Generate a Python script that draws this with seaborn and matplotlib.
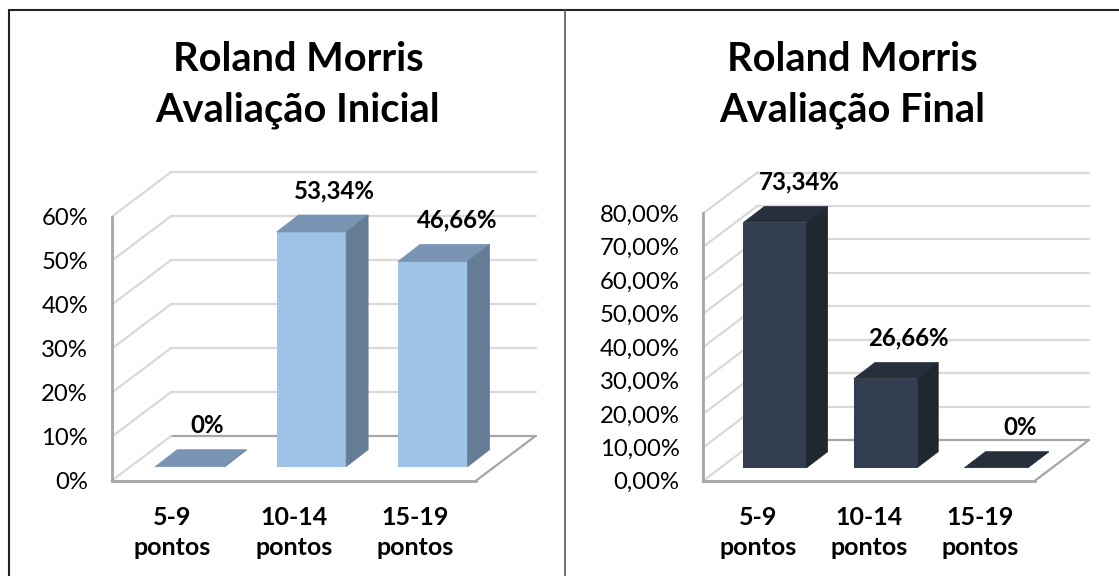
import matplotlib
matplotlib.use("Agg")
import matplotlib.pyplot as plt
import pandas as pd
import seaborn as sns
from matplotlib.patches import Polygon

categories = ["5-9\npontos", "10-14\npontos", "15-19\npontos"]

inicial_values = [0, 53.34, 46.66]
inicial_labels = ["0%", "53,34%", "46,66%"]
inicial_ticks = [0, 10, 20, 30, 40, 50, 60]
inicial_ticklabels = ["0%", "10%", "20%", "30%", "40%", "50%", "60%"]

final_values = [73.34, 26.66, 0]
final_labels = ["73,34%", "26,66%", "0%"]
final_ticks = [0, 10, 20, 30, 40, 50, 60, 70, 80]
final_ticklabels = ["0,00%", "10,00%", "20,00%", "30,00%", "40,00%",
                    "50,00%", "60,00%", "70,00%", "80,00%"]

W, H = 1119, 576
GRID = "#d9d9d9"
AXIS = "#a6a6a6"


def plot_panel(fig, box, values, labels, ticks, ticklabels, colors, wall, bar_off, bar_depth, label_shift):
    # box is left, top, right, bottom of the front wall in pixels
    left, top, right, bottom = box
    ax = fig.add_axes([left / W, 1 - bottom / H, (right - left) / W, (bottom - top) / H])
    df = pd.DataFrame({"cat": categories, "val": values})
    sns.barplot(df, x="cat", y="val", color=colors[0], saturation=1, width=0.573, linewidth=0, ax=ax, zorder=3)
    ax.set_xlim(-0.5, 2.5)
    ax.set_ylim(ticks[0], ticks[-1])

    # pixels to data units, the fake 3d depth is all offsets
    px_x = 3 / (right - left)
    px_y = (ticks[-1] - ticks[0]) / (bottom - top)

    for t in ticks:
        color = AXIS if t == 0 else GRID
        ax.plot([-0.5 + wall[0] * px_x, 2.5 + wall[0] * px_x], [t + wall[1] * px_y] * 2,
                color=color, lw=1.6, clip_on=False, zorder=1)
        ax.plot([-0.5, -0.5 + wall[0] * px_x], [t, t + wall[1] * px_y],
                color=GRID, lw=1.6, clip_on=False, zorder=1)
    # floor right edge
    ax.plot([2.5, 2.5 + wall[0] * px_x], [0, wall[1] * px_y], color=AXIS, lw=1.6, clip_on=False, zorder=2)

    for i, patch in enumerate(ax.patches[:len(values)]):
        x0 = patch.get_x() + bar_off[0] * px_x
        x1 = x0 + patch.get_width()
        y0 = bar_off[1] * px_y
        y1 = y0 + values[i]
        patch.set_x(x0)
        patch.set_y(y0)
        patch.set_clip_on(False)
        dx, dy = bar_depth[0] * px_x, bar_depth[1] * px_y
        # thin same colour edge closes the seam against the front face
        ax.add_patch(Polygon([(x0, y1), (x1, y1), (x1 + dx, y1 + dy), (x0 + dx, y1 + dy)],
                             fc=colors[1], ec=colors[1], lw=0.5, clip_on=False, zorder=3))
        ax.add_patch(Polygon([(x1, y0), (x1 + dx, y0 + dy), (x1 + dx, y1 + dy), (x1, y1)],
                             fc=colors[2], ec=colors[2], lw=0.5, clip_on=False, zorder=3))
        ax.annotate(labels[i], (x0 + patch.get_width() / 2, y1 + dy), xycoords="data",
                    xytext=(label_shift[i] * 0.72, 17.5), textcoords="offset points",
                    ha="center", va="center", fontsize=17.3, fontweight="bold", color="black",
                    annotation_clip=False, zorder=4)

    ax.set_yticks(ticks)
    ax.set_yticklabels(ticklabels, fontsize=17.2, color="black")
    ax.set_xlabel("")
    ax.set_ylabel("")
    ax.tick_params(axis="y", length=0, pad=17)
    ax.tick_params(axis="x", length=0, pad=18)
    for tick in ax.get_xticklabels():
        tick.set_fontsize(18)
        tick.set_fontweight("bold")
        tick.set_color("black")
        tick.set_linespacing(1.38)
    sns.despine(ax=ax, top=True, right=True)
    for side in ["left", "bottom"]:
        ax.spines[side].set_color(AXIS)
        ax.spines[side].set_linewidth(2)
        ax.spines[side].set_zorder(2)
    ax.patch.set_alpha(0)
    return ax


sns.set_style("white")
plt.rcParams["font.family"] = ["Lato", "DejaVu Sans"]

fig = plt.figure(figsize=(W / 100, H / 100), dpi=100)

plot_panel(fig, (111.7, 216.7, 476, 480.7), inicial_values, inicial_labels, inicial_ticks, inicial_ticklabels,
           ("#9dc3e6", "#7a95b4", "#647c96"), (59.5, 44.7), (17.5, 14), (22, 17), (17.5, 23, 24))
plot_panel(fig, (703.3, 213.3, 1035, 480.7), final_values, final_labels, final_ticks, final_ticklabels,
           ("#333f50", "#262f3c", "#20282f"), (54, 40.7), (16.4, 13), (21, 16), (24, 23, 24))

fig.text(298 / W, 1 - 85 / H, "Roland Morris\nAvaliação Inicial", ha="center", va="center",
         fontsize=28.6, fontweight="bold", linespacing=1.44, color="black")
fig.text(852 / W, 1 - 85 / H, "Roland Morris\nAvaliação Final", ha="center", va="center",
         fontsize=28.6, fontweight="bold", linespacing=1.44, color="black")

# table frame around the two charts
fig.add_artist(plt.Line2D([9 / W, 1], [1 - 9.5 / H] * 2, color="#222222", lw=1.5))
fig.add_artist(plt.Line2D([9 / W] * 2, [0, 1 - 9.5 / H], color="#222222", lw=1.5))
fig.add_artist(plt.Line2D([565 / W] * 2, [0, 1 - 9.5 / H], color="#555555", lw=1.2))

fig.savefig("out.png", dpi=100, facecolor="white")
